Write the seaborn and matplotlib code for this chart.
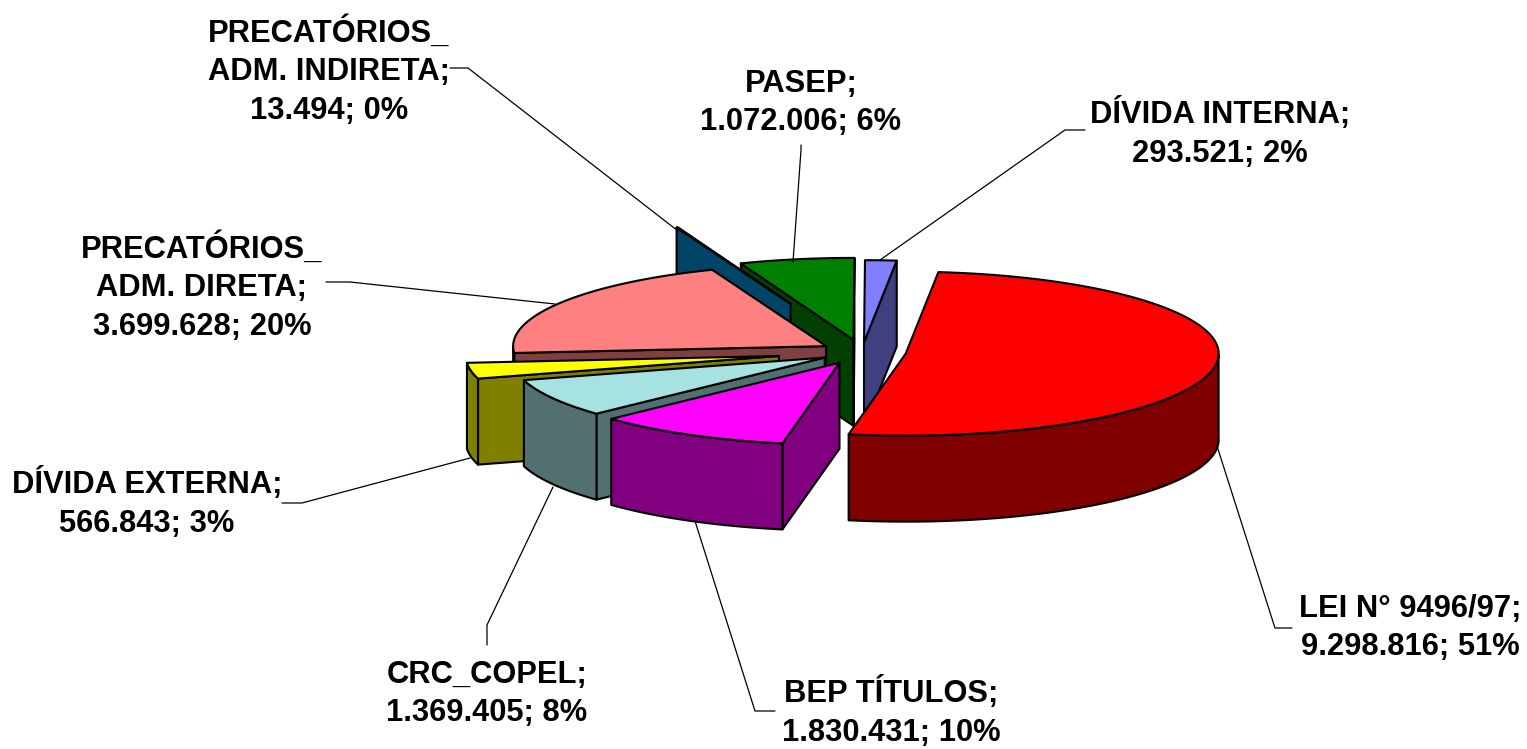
import numpy as np
import matplotlib
matplotlib.use("Agg")
import matplotlib.pyplot as plt
import seaborn as sns

categories = ["LEI N° 9496/97", "BEP TÍTULOS", "CRC_COPEL", "DÍVIDA EXTERNA",
              "PRECATÓRIOS_\nADM. DIRETA", "PRECATÓRIOS_\nADM. INDIRETA", "PASEP", "DÍVIDA INTERNA"]
values = [9298816, 1830431, 1369405, 566843, 3699628, 13494, 1072006, 293521]
value_labels = ["9.298.816", "1.830.431", "1.369.405", "566.843",
                "3.699.628", "13.494", "1.072.006", "293.521"]
pct_labels = ["51%", "10%", "8%", "3%", "20%", "0%", "6%", "2%"]

top_colors = ["#FF0000", "#FF00FF", "#A6E2E2", "#FFFF00", "#FF8080", "#0A78B8", "#008000", "#8080FF"]
side_colors = ["#800000", "#800080", "#527070", "#808000", "#804040", "#004468", "#004000", "#404080"]
explode = [0.141, 0.15, 0.137, 0.27, 0.135, 0.63, 0.15, 0.12]

BASE = (862.0, 352.0)
RX, RY, DEPTH = 313.0, 82.0, 86.0
START = 84.0
DRAW_ORDER = [7, 6, 5, 4, 3, 2, 1, 0]

label_layout = {
    0: (1410, 628, [(1292, 628), (1275, 628), (1217, 446)]),
    1: (891, 712, [(775, 711), (755, 711), (695, 521)]),
    2: (487, 694, [(487, 645), (487, 625), (553, 487)]),
    3: (147, 503, [(282, 503), (302, 503), (470, 458)]),
    4: (202, 287, [(326, 282), (350, 282), (555, 304)]),
    5: (329, 71, [(450, 68), (468, 68), (678, 231)]),
    6: (801, 103, [(801, 145), (801, 150), (793, 262)]),
    7: (1220, 133, [(1085, 130), (1065, 130), (880, 260)]),
}

sns.set_theme(style="white")
plt.rcParams["font.family"] = ["Liberation Sans", "DejaVu Sans"]
fig = plt.figure(figsize=(15.27, 7.49), dpi=100, facecolor="white")
ax = fig.add_axes([0, 0, 1, 1])
ax.set_xlim(0, 1527)
ax.set_ylim(749, 0)
ax.axis("off")

shares = np.array(values, dtype=float) / np.sum(values) * 360.0
ends = START - np.cumsum(shares)
starts = ends + shares


def ell(cx, cy, deg):
    r = np.radians(deg)
    return cx + RX * np.cos(r), cy - RY * np.sin(r)


def poly(xs, ys, color, z):
    ax.fill(xs, ys, facecolor=color, edgecolor="black", linewidth=1.5, joinstyle="round", zorder=z)


for z, i in enumerate(DRAW_ORDER):
    a0, a1 = starts[i], ends[i]
    mid = np.radians((a0 + a1) / 2)
    cx = BASE[0] + explode[i] * RX * np.cos(mid)
    cy = BASE[1] - explode[i] * RY * np.sin(mid)
    t = np.linspace(a0, a1, 120)
    ax_, ay_ = ell(cx, cy, t)
    # cut faces: only those turned towards the viewer
    for edge, visible in ((a0, np.cos(np.radians(a0)) < 0), (a1, np.cos(np.radians(a1)) > 0)):
        if visible:
            ex, ey = ell(cx, cy, edge)
            poly([cx, ex, ex, cx], [cy, ey, ey + DEPTH, cy + DEPTH], side_colors[i], z * 10 + 1)
    # outer wall, front half only
    vis = np.sin(np.radians(t)) <= 0
    if vis.any():
        wx, wy = ax_[vis], ay_[vis]
        poly(np.r_[wx, wx[::-1]], np.r_[wy, wy[::-1] + DEPTH], side_colors[i], z * 10 + 2)
    # top
    poly(np.r_[cx, ax_], np.r_[cy, ay_], top_colors[i], z * 10 + 3)

for i, (tx, ty, pts) in label_layout.items():
    text = f"{categories[i]};\n{value_labels[i]}; {pct_labels[i]}"
    ax.text(tx, ty, text, ha="center", va="center", fontsize=22.2, fontweight="bold",
            color="black", linespacing=1.37, zorder=200)
    ax.plot(*zip(*pts), color="black", lw=0.9, zorder=150)

fig.savefig("out.png", dpi=100, facecolor="white")
